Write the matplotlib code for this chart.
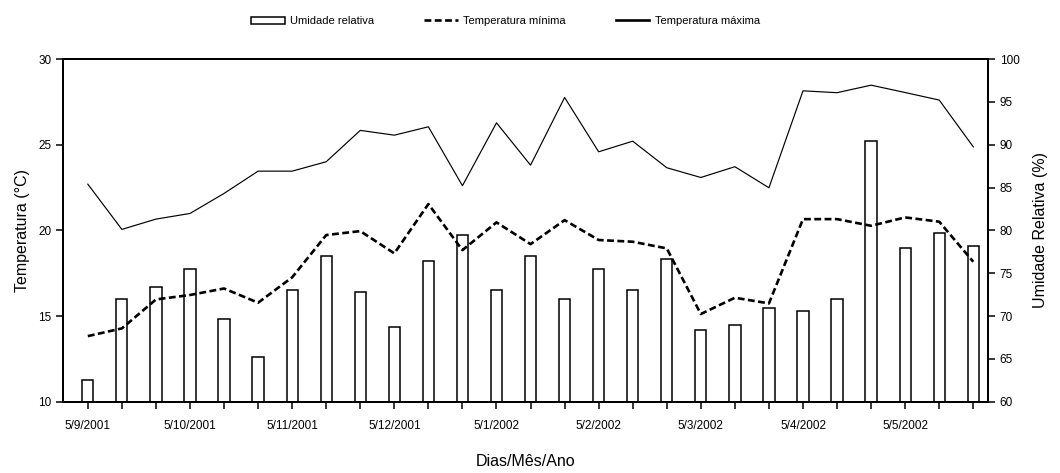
import matplotlib
matplotlib.use("Agg")
import matplotlib.pyplot as plt
from matplotlib.patches import Patch
from matplotlib.lines import Line2D

plt.rcParams['font.family'] = ['Liberation Sans Narrow', 'Liberation Sans', 'DejaVu Sans']

# 27 readings, one every ~10 days; only the 5th of each month is labelled
date_labels = ['5/9/2001', '', '', '5/10/2001', '', '', '5/11/2001', '', '',
               '5/12/2001', '', '', '5/1/2002', '', '', '5/2/2002', '', '',
               '5/3/2002', '', '', '5/4/2002', '', '', '5/5/2002', '', '']

temp_max = [22.70, 20.06, 20.66, 20.99, 22.16, 23.46, 23.46, 24.01, 25.84,
            25.56, 26.05, 22.61, 26.28, 23.81, 27.76, 24.59, 25.21, 23.66,
            23.09, 23.72, 22.49, 28.15, 28.04, 28.48, 28.05, 27.61, 24.88]

temp_min = [13.83, 14.28, 15.97, 16.23, 16.61, 15.78, 17.26, 19.73, 19.96,
            18.66, 21.54, 18.85, 20.47, 19.20, 20.60, 19.44, 19.34, 18.95,
            15.12, 16.07, 15.74, 20.66, 20.66, 20.27, 20.76, 20.51, 18.17]

umidade = [62.5, 72.0, 73.4, 75.5, 69.7, 65.2, 73.1, 77.0, 72.8,
           68.75, 76.4, 79.5, 73.1, 77.0, 72.0, 75.5, 73.1, 76.7,
           68.4, 68.9, 70.9, 70.6, 72.0, 90.4, 77.9, 79.65, 78.2]

x = list(range(len(date_labels)))
dash = (0, (2.6, 1.3))

fig = plt.figure(figsize=(10.6, 4.73), dpi=100)
ax = fig.add_axes([0.0594, 0.1507, 0.8726, 0.7243])
ax2 = ax.twinx()

# bars behind the temperature lines
ax2.bar(x, umidade, width=0.33, bottom=0, color='white', edgecolor='black', linewidth=1.1)
ax2.set_ylim(60, 100)
ax.set_zorder(ax2.get_zorder() + 1)
ax.patch.set_visible(False)

ax.plot(x, temp_max, color='black', linewidth=0.85)
ax.plot(x, temp_min, color='black', linewidth=1.9, linestyle=dash)

ax.set_ylim(10, 30)
ax.set_xlim(-0.73, 26.43)
ax.set_yticks([10, 15, 20, 25, 30])
ax2.set_yticks([60, 65, 70, 75, 80, 85, 90, 95, 100])
ax.set_xticks(x)
ax.set_xticklabels(date_labels)

for a in (ax, ax2):
    for s in a.spines.values():
        s.set_linewidth(1.4)
    a.tick_params(direction='out', length=5, width=1.1, labelsize=8.5)
ax.tick_params(axis='x', pad=8)

ax.set_ylabel('Temperatura (°C)', fontsize=11.5, labelpad=6)
ax2.set_ylabel('Umidade Relativa (%)', fontsize=11.5, rotation=90, labelpad=10)
ax.set_xlabel('Dias/Mês/Ano', fontsize=11.5, labelpad=16)

handles = [Patch(facecolor='white', edgecolor='black', linewidth=1.1),
           Line2D([], [], color='black', linewidth=1.9, linestyle=dash),
           Line2D([], [], color='black', linewidth=1.9)]
labels = ['Umidade relativa', 'Temperatura mínima', 'Temperatura máxima']
fig.legend(handles, labels, loc='center', bbox_to_anchor=(0.477, 0.955), ncol=3,
           frameon=False, fontsize=8, handlelength=3, handletextpad=0.5,
           columnspacing=4.5)

fig.savefig('out.png', dpi=100)
